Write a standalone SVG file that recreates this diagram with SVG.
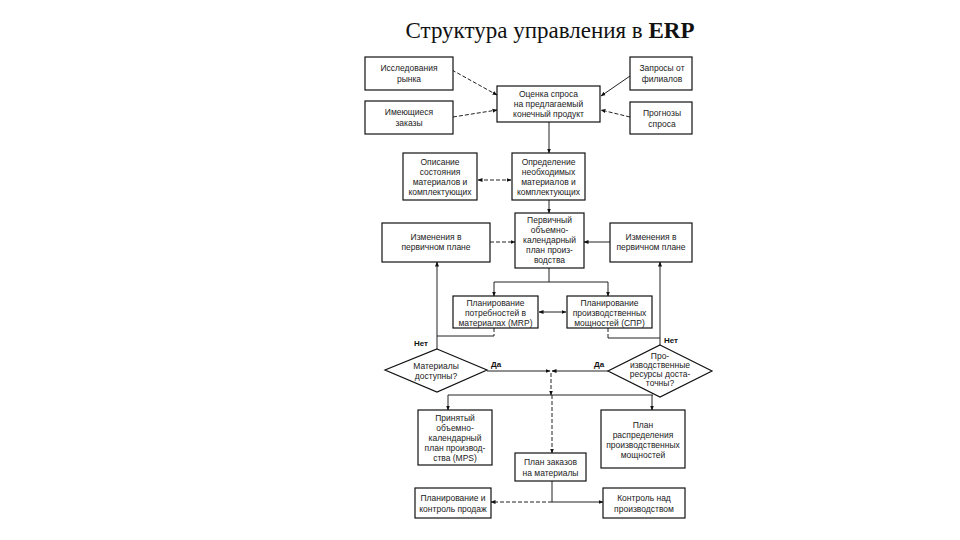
<svg xmlns="http://www.w3.org/2000/svg" width="960" height="540" viewBox="0 0 960 540">
<defs>
<marker id="ah" viewBox="0 0 10 10" refX="9" refY="5" markerWidth="5" markerHeight="5" orient="auto-start-reverse" markerUnits="userSpaceOnUse">
<path d="M0,1 L10,5 L0,9 Z" fill="#111"/>
</marker>
<style>
.ttl{font-family:"Liberation Serif","Times New Roman",serif;font-size:23px;fill:#111;text-anchor:middle}
.bx{fill:#fff;stroke:#111;stroke-width:1.2}
.t{font-family:"Liberation Sans",Arial,sans-serif;font-size:8.5px;fill:#222;text-anchor:middle}
.b{font-family:"Liberation Sans",Arial,sans-serif;font-size:8px;font-weight:bold;fill:#111}
.c{fill:none;stroke:#222;stroke-width:1}
.d{stroke-dasharray:4 2}
.a{marker-end:url(#ah)}
.a2{marker-start:url(#ah);marker-end:url(#ah)}
</style>
</defs>
<rect width="960" height="540" fill="#fff"/>
<text class="ttl" x="550" y="38">Структура управления в <tspan font-weight="bold">ERP</tspan></text>

<g id="connectors">
<line class="c d a" x1="452" y1="70" x2="497" y2="95"/>
<line class="c d a" x1="453" y1="117" x2="497" y2="110"/>
<line class="c a" x1="630" y1="76" x2="601" y2="96"/>
<line class="c d a" x1="630" y1="117" x2="601" y2="110"/>
<line class="c a" x1="549" y1="122" x2="549" y2="153"/>
<line class="c d a2" x1="478" y1="180" x2="511" y2="180"/>
<line class="c a" x1="549" y1="200" x2="549" y2="213"/>
<line class="c d a" x1="490" y1="242" x2="515" y2="242"/>
<line class="c a" x1="610" y1="242" x2="584" y2="242"/>
<polyline class="c" points="549,268 549,282"/>
<polyline class="c" points="494,282 608,282"/>
<line class="c a" x1="494" y1="282" x2="494" y2="296"/>
<line class="c a" x1="608" y1="282" x2="608" y2="296"/>
<line class="c a2" x1="539" y1="312" x2="566" y2="312"/>
<polyline class="c d" points="494,328 494,336"/>
<polyline class="c" points="494,336 437,336"/>
<line class="c a" x1="437" y1="349" x2="437" y2="262"/>
<polyline class="c d" points="608,328 608,338"/>
<polyline class="c" points="608,338 660,338"/>
<line class="c a" x1="660" y1="345" x2="660" y2="262"/>
<line class="c a" x1="487" y1="371" x2="550" y2="371"/>
<line class="c a" x1="608" y1="371" x2="552" y2="371"/>
<line class="c d a" x1="551" y1="373" x2="551" y2="395"/>
<polyline class="c" points="448,395 653,395"/>
<line class="c a" x1="448" y1="395" x2="448" y2="410"/>
<line class="c a" x1="652" y1="395" x2="652" y2="410"/>
<line class="c d a" x1="552" y1="395" x2="552" y2="453"/>
<polyline class="c" points="552,481 552,502"/>
<line class="c d a" x1="552" y1="502" x2="491" y2="502"/>
<line class="c a" x1="552" y1="502" x2="603" y2="502"/>
<text class="b" x="414" y="346">Нет</text>
<text class="b" x="664" y="343">Нет</text>
<text class="b" x="491" y="367">Да</text>
<text class="b" x="594" y="367">Да</text>
</g>

<g id="n1"><rect class="bx" x="365" y="57" width="88" height="33"/>
<text class="t" x="409" y="71">Исследования</text><text class="t" x="409" y="82">рынка</text></g>
<g id="n2"><rect class="bx" x="365" y="101" width="88" height="33"/>
<text class="t" x="409" y="115">Имеющиеся</text><text class="t" x="409" y="126">заказы</text></g>
<g id="n3"><rect class="bx" x="497" y="86" width="103" height="36"/>
<text class="t" x="548.5" y="97">Оценка спроса</text><text class="t" x="548.5" y="107">на предлагаемый</text><text class="t" x="548.5" y="117">конечный продукт</text></g>
<g id="n4"><rect class="bx" x="630" y="57" width="62" height="33"/>
<text class="t" x="662" y="71">Запросы от</text><text class="t" x="662" y="82">филиалов</text></g>
<g id="n5"><rect class="bx" x="630" y="102" width="62" height="32"/>
<text class="t" x="662" y="116">Прогнозы</text><text class="t" x="662" y="127">спроса</text></g>
<g id="n6"><rect class="bx" x="403" y="153" width="74" height="47"/>
<text class="t" x="440" y="165">Описание</text><text class="t" x="440" y="175">состояния</text><text class="t" x="440" y="185">материалов и</text><text class="t" x="440" y="195">комплектующих</text></g>
<g id="n7"><rect class="bx" x="512" y="153" width="73" height="47"/>
<text class="t" x="548.5" y="165">Определение</text><text class="t" x="548.5" y="175">необходимых</text><text class="t" x="548.5" y="185">материалов и</text><text class="t" x="548.5" y="195">комплектующих</text></g>
<g id="n8"><rect class="bx" x="515" y="213" width="69" height="55"/>
<text class="t" x="549.5" y="223">Первичный</text><text class="t" x="549.5" y="233">объемно-</text><text class="t" x="549.5" y="243">календарный</text><text class="t" x="549.5" y="253">план произ-</text><text class="t" x="549.5" y="263">водства</text></g>
<g id="n9"><rect class="bx" x="382" y="223" width="108" height="39"/>
<text class="t" x="436" y="240">Изменения в</text><text class="t" x="436" y="250">первичном плане</text></g>
<g id="n10"><rect class="bx" x="610" y="223" width="82" height="39"/>
<text class="t" x="651" y="240">Изменения в</text><text class="t" x="651" y="250">первичном плане</text></g>
<g id="n11"><rect class="bx" x="453" y="296" width="85" height="32"/>
<text class="t" x="495.5" y="306">Планирование</text><text class="t" x="495.5" y="316">потребностей в</text><text class="t" x="495.5" y="326">материалах (MRP)</text></g>
<g id="n12"><rect class="bx" x="567" y="296" width="85" height="32"/>
<text class="t" x="609.5" y="306">Планирование</text><text class="t" x="609.5" y="316">производственных</text><text class="t" x="609.5" y="326">мощностей (СПР)</text></g>
<g id="n13"><polygon class="bx" points="437,349 487,370 437,392 385,370"/>
<text class="t" x="436" y="369">Материалы</text><text class="t" x="436" y="379">доступны?</text></g>
<g id="n14"><polygon class="bx" points="660,345 712,371 660,397 608,371"/>
<text class="t" x="660" y="359">Про-</text><text class="t" x="660" y="368">изводственные</text><text class="t" x="660" y="377">ресурсы доста-</text><text class="t" x="660" y="386">точны?</text></g>
<g id="n15"><rect class="bx" x="418" y="410" width="74" height="55"/>
<text class="t" x="455" y="421">Принятый</text><text class="t" x="455" y="431">объемно-</text><text class="t" x="455" y="441">календарный</text><text class="t" x="455" y="451">план производ-</text><text class="t" x="455" y="461">ства (MPS)</text></g>
<g id="n16"><rect class="bx" x="515" y="453" width="71" height="28"/>
<text class="t" x="550.5" y="465">План заказов</text><text class="t" x="550.5" y="476">на материалы</text></g>
<g id="n17"><rect class="bx" x="601" y="410" width="84" height="58"/>
<text class="t" x="643" y="428">План</text><text class="t" x="643" y="438">распределения</text><text class="t" x="643" y="448">производственных</text><text class="t" x="643" y="458">мощностей</text></g>
<g id="n18"><rect class="bx" x="415" y="488" width="76" height="30"/>
<text class="t" x="453" y="501">Планирование и</text><text class="t" x="453" y="512">контроль продаж</text></g>
<g id="n19"><rect class="bx" x="603" y="488" width="82" height="30"/>
<text class="t" x="644" y="501">Контроль над</text><text class="t" x="644" y="512">производством</text></g>
</svg>
